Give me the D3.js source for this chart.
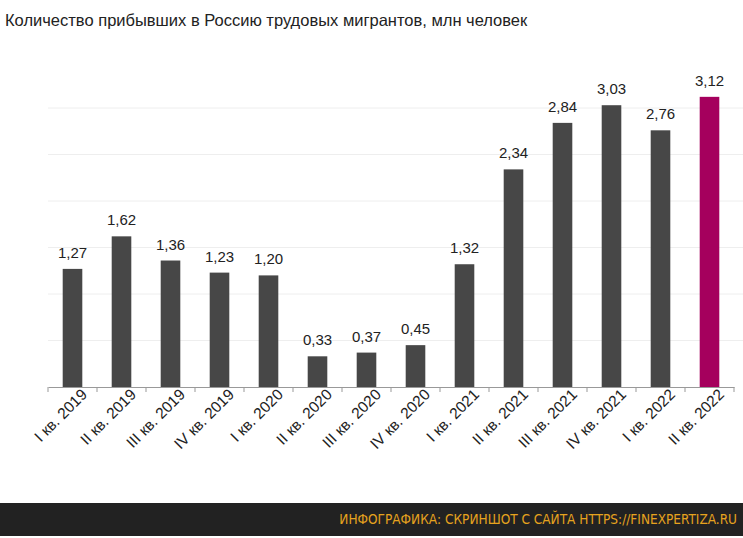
<!DOCTYPE html>
<html><head><meta charset="utf-8">
<script src="https://cdn.jsdelivr.net/npm/d3@7"></script>
<style>body{margin:0;background:#fff;}</style></head>
<body><svg id="c" width="743" height="538"></svg>
<script>
const categories = ["I кв. 2019","II кв. 2019","III кв. 2019","IV кв. 2019","I кв. 2020","II кв. 2020","III кв. 2020","IV кв. 2020","I кв. 2021","II кв. 2021","III кв. 2021","IV кв. 2021","I кв. 2022","II кв. 2022"];
const values = [1.27,1.62,1.36,1.23,1.20,0.33,0.37,0.45,1.32,2.34,2.84,3.03,2.76,3.12];
const gridTicks = [0.5,1,1.5,2,2.5,3];
const title = "Количество прибывших в Россию трудовых мигрантов, млн человек";
const footer = "ИНФОГРАФИКА: СКРИНШОТ С САЙТА HTTPS://FINEXPERTIZA.RU";

const svg = d3.select("#c");
const x = d3.scaleBand().domain(categories).range([48,734]).paddingInner(0.6).paddingOuter(0.3);
const y = d3.scaleLinear().domain([0,3]).range([387,108]);
const font = "Liberation Sans, Arial, sans-serif";

svg.append("text").attr("x",5).attr("y",26).attr("font-family",font).attr("font-size",16.5).attr("fill","#222").text(title);

svg.selectAll(".g").data(gridTicks).join("line").attr("x1",48).attr("x2",743)
  .attr("y1",d=>y(d)).attr("y2",d=>y(d)).attr("stroke","#eeeeee").attr("stroke-width",1);

svg.selectAll(".b").data(values).join("rect")
  .attr("x",(d,i)=>x(categories[i])).attr("width",x.bandwidth())
  .attr("y",d=>y(d)).attr("height",d=>y(0)-y(d))
  .attr("fill",(d,i)=>i===values.length-1?"#a5005d":"#474747");

svg.selectAll(".v").data(values).join("text")
  .attr("x",(d,i)=>x(categories[i])+x.bandwidth()/2).attr("y",d=>y(d)-11)
  .attr("text-anchor","middle").attr("font-family",font).attr("font-size",15).attr("fill","#222")
  .text(d=>d.toFixed(2).replace(".",","));

const xb = d3.scaleBand().domain(categories).range([48,734]);
const ax = svg.append("g").attr("transform","translate(0,387)")
  .call(d3.axisBottom(xb).tickSize(0).tickSizeOuter(0));
ax.select(".domain").attr("stroke","#999");
ax.selectAll(".tick text").attr("font-family",font).attr("font-size",15.5).attr("fill","#222")
  .attr("text-anchor","end").attr("dx","5").attr("dy","14").attr("transform","rotate(-45)");
const edges = categories.map(c=>xb(c)).concat([734]);
svg.selectAll(".tk").data(edges).join("line").attr("x1",d=>d).attr("x2",d=>d)
  .attr("y1",387).attr("y2",392).attr("stroke","#999");

svg.append("rect").attr("x",0).attr("y",503).attr("width",743).attr("height",33).attr("fill","#222");
svg.append("text").attr("x",737).attr("y",524).attr("text-anchor","end").attr("font-family","DejaVu Sans Condensed, DejaVu Sans, sans-serif")
  .attr("font-size",13.5).attr("fill","#e6a31e").text(footer);
</script></body></html>
